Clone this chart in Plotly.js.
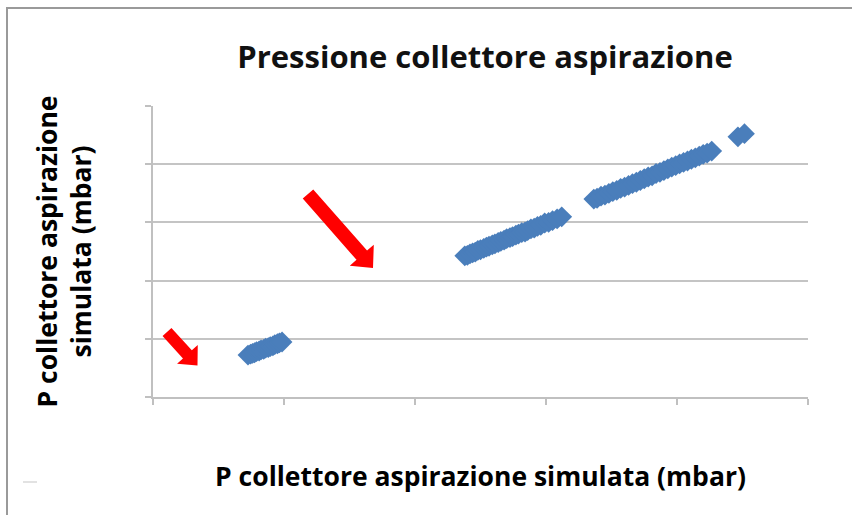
<!DOCTYPE html>
<html>
<head>
<meta charset="utf-8">
<script src="https://cdn.plot.ly/plotly-3.0.1.min.js"></script>
<style>
  html, body { margin: 0; padding: 0; background: #ffffff; }
  #chart { width: 852px; height: 515px; }
</style>
</head>
<body>
<div id="chart"></div>
<script>
// Values (arbitrary mbar-like scale, no tick labels shown)
const lowX = [145, 149, 152, 155, 158, 162, 165, 169, 172, 176, 179, 183, 186, 190, 193, 197];
const lowY = [144, 147, 150, 152, 156, 158, 162, 164, 168, 170, 173, 176, 180, 183, 186, 189];

const midX = [476, 480, 484, 488, 492, 496, 500, 505, 509, 513, 518, 522, 527, 531, 536, 540,
              545, 549, 554, 558, 563, 568, 572, 577, 582, 587, 592, 598, 604, 610, 617, 624];
const midY = [485, 487, 492, 495, 498, 504, 506, 511, 515, 518, 523, 526, 531, 535, 539, 544,
              548, 551, 556, 560, 565, 567, 572, 578, 580, 586, 590, 598, 600, 606, 612, 619];

const highX = [673, 678, 684, 690, 696, 702, 708, 714, 720, 726, 732, 738, 744, 750, 756, 762,
               768, 774, 780, 786, 792, 798, 804, 810, 816, 822, 828, 834, 840, 846, 853, 893, 903];
const highY = [680, 683, 690, 694, 700, 706, 710, 717, 721, 727, 733, 738, 744, 750, 756, 760,
               768, 772, 778, 784, 790, 795, 801, 806, 811, 817, 822, 828, 834, 838, 845, 894, 905];

const xAll = lowX.concat(midX, highX);
const yAll = lowY.concat(midY, highY);

const chartTitle = "Pressione collettore aspirazione";
const xTitle = "P collettore aspirazione simulata (mbar)";
const yTitle = "P collettore aspirazione<br>simulata (mbar)";

// plot area geometry (pixels)
const W = 852, H = 515;
const L = 153, R = 808, T = 106, B = 397;
const px = v => (v - L) / (R - L);
const py = v => (B - v) / (B - T);

// block arrow polygon from tail to tip (pixel coords), converted to paper coords
function arrowPath(tail, tip, shaftHalf, headHalf, headLen) {
  const dx = tip[0] - tail[0], dy = tip[1] - tail[1];
  const len = Math.hypot(dx, dy);
  const ux = dx / len, uy = dy / len;
  const nx = -uy, ny = ux;
  const bx = tip[0] - ux * headLen, by = tip[1] - uy * headLen;
  const pts = [
    [tail[0] + nx * shaftHalf, tail[1] + ny * shaftHalf],
    [bx + nx * shaftHalf, by + ny * shaftHalf],
    [bx + nx * headHalf, by + ny * headHalf],
    [tip[0], tip[1]],
    [bx - nx * headHalf, by - ny * headHalf],
    [bx - nx * shaftHalf, by - ny * shaftHalf],
    [tail[0] - nx * shaftHalf, tail[1] - ny * shaftHalf]
  ];
  return 'M ' + pts.map(p => px(p[0]).toFixed(5) + ',' + py(p[1]).toFixed(5)).join(' L ') + ' Z';
}

const trace = {
  type: 'scatter',
  mode: 'markers',
  x: xAll,
  y: yAll,
  marker: { symbol: 'diamond', size: 16, color: '#4a7ebb', line: { width: 0 } },
  hoverinfo: 'x+y',
  showlegend: false
};

const fontFam = '"Open Sans", Lato, sans-serif';

const layout = {
  width: W, height: H,
  margin: { l: L, r: W - R, t: T, b: H - B, pad: 0 },
  paper_bgcolor: '#ffffff',
  plot_bgcolor: '#ffffff',
  showlegend: false,
  title: {
    text: chartTitle,
    font: { family: fontFam, size: 31, color: '#111111', weight: 'bold' },
    x: 485 / W, xanchor: 'center', xref: 'container',
    y: 1 - 57 / H, yanchor: 'middle', yref: 'container'
  },
  xaxis: {
    range: [0, 1000], dtick: 200, tick0: 0,
    showgrid: false, zeroline: false,
    showline: true, linecolor: '#c0c0c0', linewidth: 1.5,
    ticks: 'outside', ticklen: 6, tickcolor: '#c0c0c0', tickwidth: 1.5,
    showticklabels: false, fixedrange: true,
    title: {
      text: xTitle,
      font: { family: fontFam, size: 26.5, color: '#000000', weight: 'bold' },
      standoff: 64
    }
  },
  yaxis: {
    range: [0, 1000], dtick: 200, tick0: 0,
    showgrid: true, gridcolor: '#c4c4c4', gridwidth: 1.5,
    zeroline: false,
    showline: true, linecolor: '#c0c0c0', linewidth: 1.5,
    ticks: 'outside', ticklen: 6, tickcolor: '#c0c0c0', tickwidth: 1.5,
    showticklabels: false, fixedrange: true,
    title: {
      text: yTitle,
      font: { family: fontFam, size: 26.5, color: '#000000', weight: 'bold' },
      standoff: 46
    }
  },
  shapes: [
    // chart frame (left & top edges visible)
    { type: 'rect', xref: 'paper', yref: 'paper',
      x0: px(7), x1: px(900), y0: py(600), y1: py(8),
      line: { color: '#9a9a9a', width: 2 }, fillcolor: 'rgba(0,0,0,0)', layer: 'below' },
    // small stray dash at lower left
    { type: 'line', xref: 'paper', yref: 'paper',
      x0: px(23), x1: px(37), y0: py(482), y1: py(482),
      line: { color: '#d8d8d8', width: 1.5 } },
    // red arrows
    { type: 'path', xref: 'paper', yref: 'paper',
      path: arrowPath([308, 194], [373, 268], 7, 16, 17),
      fillcolor: '#ff0000', line: { width: 0 }, layer: 'above' },
    { type: 'path', xref: 'paper', yref: 'paper',
      path: arrowPath([167, 332], [197.5, 365.5], 6, 14, 15),
      fillcolor: '#ff0000', line: { width: 0 }, layer: 'above' }
  ]
};

Plotly.newPlot('chart', [trace], layout, { displayModeBar: false, staticPlot: false });
</script>
</body>
</html>
